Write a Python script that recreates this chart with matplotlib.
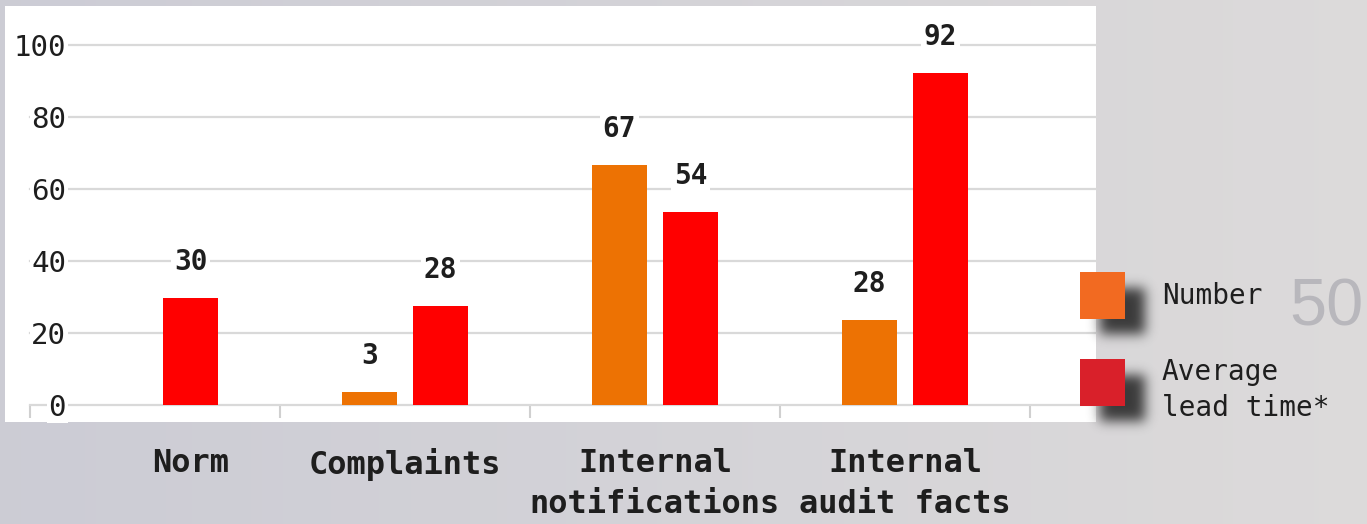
import numpy as np
import matplotlib
matplotlib.use("Agg")
import matplotlib.pyplot as plt
from matplotlib.patches import Rectangle

# data
categories = ["Norm", "Complaints", "Internal\nnotifications", "Internal\naudit facts"]
number = [None, 3.6, 66.7, 23.6]
number_labels = ["", "3", "67", "28"]
lead_time = [29.7, 27.5, 53.6, 92.2]
lead_time_labels = ["30", "28", "54", "92"]
series_names = ["Number", "Average\nlead time*"]
yticks = [0, 20, 40, 60, 80, 100]

W, H = 1367, 524
MONO = "DejaVu Sans Mono"
TXT = "#1e1e1e"
ORANGE = "#ed7203"
RED = "#ff0000"

fig = plt.figure(figsize=(W / 100, H / 100), dpi=100)

# grey photo-like background
bg = fig.add_axes([0, 0, 1, 1], zorder=-10)
grad = np.linspace(0, 1, 256)
c0 = np.array([0.80, 0.80, 0.835])
c1 = np.array([0.865, 0.857, 0.857])
img = c0[None, None, :] * (1 - grad)[None, :, None] + c1[None, None, :] * grad[None, :, None]
bg.imshow(np.repeat(img, 2, axis=0), aspect="auto", extent=[0, 1, 0, 1])
bg.axis("off")

# white panel behind the chart
fig.add_artist(Rectangle((5 / W, 1 - 422 / H), 1091 / W, 416 / H,
                         transform=fig.transFigure, facecolor="white",
                         edgecolor="none", zorder=-5))

ax = fig.add_axes([30 / W, 1 - 405 / H, 1066 / W, 399 / H])
ax.set_facecolor("none")
ax.set_xlim(-0.5, -0.5 + 1066 / 250)
ax.set_ylim(0, 399 / 3.6)

x = np.arange(len(categories))
bw = 0.22
off = 0.142

for i in range(len(categories)):
    if number[i] is not None:
        ax.bar(x[i] - off, number[i], width=bw, color=ORANGE, zorder=3)
        ax.annotate(number_labels[i], (x[i] - off, number[i]), xytext=(0, 26),
                    textcoords="offset points", ha="center", va="center",
                    fontsize=20, fontweight="bold", family=MONO, color=TXT,
                    bbox=dict(facecolor="white", edgecolor="none", pad=2), zorder=4)
    ax.bar(x[i] + off, lead_time[i], width=bw, color=RED, zorder=3)
    ax.annotate(lead_time_labels[i], (x[i] + off, lead_time[i]), xytext=(0, 26),
                textcoords="offset points", ha="center", va="center",
                fontsize=20, fontweight="bold", family=MONO, color=TXT,
                bbox=dict(facecolor="white", edgecolor="none", pad=2), zorder=4)

# y axis: labels sit inside the panel
ax.set_yticks(yticks)
ax.set_yticklabels([str(t) for t in yticks], family=MONO, fontsize=21, color=TXT)
ax.tick_params(axis="y", length=0, pad=-26)
for lbl in ax.get_yticklabels():
    lbl.set_bbox(dict(facecolor="white", edgecolor="none", pad=1))
    lbl.set_zorder(5)
ax.grid(axis="y", color="#d9d9d9", linewidth=1.6, zorder=0)
for gl in ax.get_ygridlines():
    gl.set_clip_on(False)

# x axis: category names, boundary ticks
tick_pos = [x[i] + (off if number[i] is None else 0) for i in range(len(categories))]
ax.set_xticks(tick_pos)
ax.set_xticklabels(categories, family=MONO, fontsize=23, fontweight="bold",
                   color=TXT, linespacing=1.42)
ax.set_xticks(np.arange(-0.5, len(categories)), minor=True)
ax.tick_params(axis="x", which="major", length=0, pad=31)
ax.tick_params(axis="x", which="minor", length=9, width=1.5, color="#d0d0d0",
               direction="out")
for s in ax.spines.values():
    s.set_visible(False)


def shadow(x0, y0, w, h, sigma=6, pad=20):
    m = np.zeros((h + 2 * pad, w + 2 * pad))
    m[pad:pad + h, pad:pad + w] = 1
    k = np.exp(-0.5 * (np.arange(-3 * sigma, 3 * sigma + 1) / sigma) ** 2)
    k /= k.sum()
    m = np.apply_along_axis(lambda r: np.convolve(r, k, mode="same"), 1, m)
    m = np.apply_along_axis(lambda c: np.convolve(c, k, mode="same"), 0, m)
    rgba = np.zeros(m.shape + (4,))
    rgba[..., :3] = 0.12
    rgba[..., 3] = m * 0.85
    sa = fig.add_axes([(x0 - pad) / W, 1 - (y0 + h + pad) / H,
                       (w + 2 * pad) / W, (h + 2 * pad) / H], zorder=6)
    sa.imshow(rgba, aspect="auto", interpolation="bilinear")
    sa.axis("off")


# legend with drop shadows
leg = [("#f26a21", 272, series_names[0], 296), ("#d9202a", 359, series_names[1], 390)]
for col, ytop, name, ytext in leg:
    shadow(1100, ytop + 16, 45, 46)
    fig.add_artist(Rectangle((1080 / W, 1 - (ytop + 47) / H), 45 / W, 47 / H,
                             transform=fig.transFigure, facecolor=col,
                             edgecolor="none", zorder=7))
    fig.text(1162 / W, 1 - ytext / H, name, family=MONO, fontsize=20, color=TXT,
             ha="left", va="center", linespacing=1.4, zorder=8)

# page number from the original layout
fig.text(1289 / W, 1 - 308 / H, "50", family="Liberation Sans", fontsize=48,
         color="#b8b7bc", ha="left", va="center", zorder=1)

fig.savefig("out.png", dpi=100)
